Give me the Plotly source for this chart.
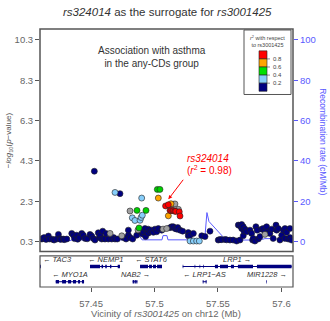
import plotly.graph_objects as go

# ---------------- data ----------------
navy_x = [57.4112, 57.4120, 57.4130, 57.4146, 57.4164, 57.4172, 57.4195, 57.4209, 57.4230, 57.4243,
          57.4255, 57.4261, 57.4282, 57.4290, 57.4309, 57.4348, 57.4361, 57.4370, 57.4387, 57.4395,
          57.4408, 57.4427, 57.4439, 57.4453, 57.4470, 57.4492, 57.4505, 57.4518, 57.4531, 57.4557,
          57.4565, 57.4571, 57.4584, 57.4592, 57.4600, 57.4610, 57.4620, 57.4636, 57.4663, 57.4678,
          57.4689, 57.4707, 57.4754, 57.4776, 57.4794, 57.4794, 57.4807, 57.4828, 57.4860, 57.4880,
          57.4899, 57.4905, 57.4912, 57.4925, 57.4930, 57.4939, 57.4950, 57.4951, 57.4965, 57.4978,
          57.4991, 57.5004, 57.5017, 57.5030, 57.5057, 57.5122, 57.5135, 57.5148, 57.5161, 57.5175,
          57.5183, 57.5201, 57.5222, 57.5266, 57.5266, 57.5280, 57.5306, 57.5372, 57.5398, 57.5437,
          57.5502, 57.5516, 57.5529, 57.5555, 57.5568, 57.5594, 57.5620, 57.5647, 57.5660, 57.5673,
          57.5673, 57.5687, 57.5687, 57.5699, 57.5699, 57.5705, 57.5713, 57.5726, 57.5752, 57.5765,
          57.5773, 57.5778, 57.5791, 57.5799, 57.5809, 57.5817, 57.5831, 57.5844, 57.5857, 57.5870,
          57.5883, 57.5896, 57.5909, 57.5923, 57.5935, 57.5957, 57.5962, 57.5975, 57.5988, 57.6002,
          57.6015, 57.6028, 57.6028, 57.6041, 57.6054, 57.6067, 57.6067, 57.6080,
          57.4526, 57.4728]
navy_y = [0.43, 0.45, 0.50, 0.41, 0.58, 0.43, 0.42, 0.38, 0.43, 0.66,
          0.45, 0.41, 0.43, 0.40, 0.43, 0.71, 0.62, 0.45, 0.62, 0.42,
          0.50, 0.71, 0.62, 0.46, 0.44, 0.66, 0.58, 0.46, 0.38, 0.74,
          0.50, 0.62, 0.43, 0.82, 0.45, 0.43, 0.70, 0.43, 0.43, 0.50,
          0.43, 0.43, 0.50, 0.43, 0.62, 0.87, 0.50, 0.43, 0.62, 0.82,
          0.87, 0.68, 0.79, 0.95, 0.55, 0.76, 0.72, 0.92, 0.82, 0.87,
          0.76, 0.92, 0.79, 0.95, 0.87, 0.99, 1.04, 1.04, 0.95, 0.92,
          1.00, 0.87, 0.82, 0.75, 0.59, 0.62, 0.71, 0.59, 0.55, 0.82,
          0.38, 0.41, 0.40, 0.41, 0.39, 0.38, 0.38, 0.33, 1.12, 0.38,
          1.09, 0.95, 1.15, 1.04, 0.59, 0.82, 0.92, 0.79, 0.87, 0.71,
          0.38, 0.46, 0.33, 1.04, 0.87, 0.43, 0.55, 0.92, 0.95, 0.82,
          1.04, 0.79, 0.71, 0.92, 0.46, 1.12, 0.87, 0.95, 0.38, 0.62,
          0.87, 0.95, 0.46, 0.76, 0.43, 0.95, 0.50, 0.38,
          3.79, 2.68]

gray_x = [57.4650, 57.4742, 57.4870, 57.4807, 57.5067, 57.5096, 57.5148, 57.5161, 57.5183, 57.5188, 57.5870]
gray_y = [0.71, 0.59, 0.88, 1.82, 0.92, 0.95, 2.15, 2.17, 1.85, 1.90, 0.66]

lblue_x = [57.4689, 57.4899, 57.4825, 57.4846, 57.4886, 57.4894, 57.4904, 57.5280, 57.5306, 57.5332, 57.5353]
lblue_y = [2.74, 2.46, 1.48, 1.35, 1.36, 1.50, 1.61, 0.33, 0.33, 0.33, 0.33]

green_x = [57.5022, 57.5043, 57.4862, 57.4933, 57.4878]
green_y = [2.89, 2.89, 1.85, 1.85, 0.98]

orange_x = [57.5030, 57.5130, 57.5109]
orange_y = [2.46, 2.18, 1.58]

red_x = [57.5087, 57.5109, 57.5122, 57.5130, 57.5143, 57.5150, 57.5161, 57.5168, 57.5195, 57.5201]
red_y = [2.07, 2.13, 1.85, 1.84, 1.84, 1.83, 1.81, 1.80, 1.78, 1.57]

lead_x, lead_y = 57.5109, 2.40

recomb_x = [57.4098, 57.4335, 57.4350, 57.4846, 57.4862, 57.4886, 57.4902, 57.5059, 57.5067,
            57.5098, 57.5106, 57.5358, 57.5382, 57.5398, 57.5413, 57.5429, 57.5563, 57.5831,
            57.5870, 57.5949, 57.5988, 57.6091]
recomb_y = [0.5, 0.5, 0.9, 0.9, 2.5, 2.5, 0.9, 0.9, 3.0,
            3.0, 0.9, 0.9, 2.0, 3.0, 14.4, 10.0, 0.8, 0.8,
            1.5, 1.5, 0.8, 0.8]

gene_names = ["TAC3", "NEMP1", "STAT6", "LRP1", "MYO1A", "NAB2", "LRP1\u2212AS", "MIR1228"]
gene_start = [57.4050, 57.4492, 57.4886, 57.5222, 57.4222, 57.4828, 57.5380, 57.5881]
gene_end = [57.4105, 57.4728, 57.5059, 57.6080, 57.4445, 57.4865, 57.5410, 57.5885]
gene_strand = ["-", "-", "-", "+", "-", "+", "-", "+"]
gene_row = [1, 1, 1, 1, 2, 2, 2, 2]
gene_exons = [
    [(57.4050, 57.4105)],
    [(57.4492, 57.4571), (57.4583, 57.4595), (57.4612, 57.4624), (57.4650, 57.4660), (57.4710, 57.4728)],
    [(57.4886, 57.4949), (57.4957, 57.4980), (57.4988, 57.5012), (57.5020, 57.5059)],
    [(57.5222, 57.5227), (57.5316, 57.5321), (57.5355, 57.5360), (57.5383, 57.5388), (57.5476, 57.5500),
     (57.5516, 57.5579), (57.5602, 57.5626), (57.5657, 57.5776), (57.5807, 57.6080)],
    [(57.4222, 57.4248), (57.4272, 57.4303), (57.4319, 57.4343), (57.4358, 57.4382), (57.4398, 57.4413), (57.4429, 57.4445)],
    [(57.4828, 57.4838), (57.4843, 57.4853), (57.4857, 57.4865)],
    [(57.5380, 57.5386), (57.5403, 57.5410)],
    [(57.5881, 57.5885)],
]

left_ticks = [0.3, 2.3, 4.3, 6.3, 8.3, 10.3]
right_ticks = [0, 20, 40, 60, 80, 100]
x_ticks = [57.45, 57.5, 57.55, 57.6]
x_ticklabels = ["57.45", "57.5", "57.55", "57.6"]
legend_bins = ["#FF0000", "#FFA500", "#00E000", "#87CEFA", "#000080"]
legend_labels = ["0.8", "0.6", "0.4", "0.2"]

# ---------------- layout helpers ----------------
W, H = 330, 321
ML, MR, MT, MB = 40, 37, 29, 32
PW, PH = W - ML - MR, H - MT - MB


def pxx(x):
    return (x - ML) / PW


def pxy(y):
    return (H - MB - y) / PH


XR = [57.4098, 57.6091]
YR = [-0.192, 10.841]
Y2R = [(YR[0] - 0.3) * 10, (YR[1] - 0.3) * 10]
main_dom = [pxy(253.3), 1]
gene_dom = [0, pxy(257.7)]

fig = go.Figure()

# recombination line (right axis)
fig.add_trace(go.Scatter(x=recomb_x, y=recomb_y, mode="lines", yaxis="y2", xaxis="x",
                         line=dict(color="#5A5AFF", width=1), hoverinfo="skip"))

mk_line = dict(color="#222", width=0.6)
for xs, ys, col in [(navy_x, navy_y, "#000080"), (gray_x, gray_y, "#A0A0A0"),
                    (lblue_x, lblue_y, "#87CEFA"), (green_x, green_y, "#00D000"),
                    (orange_x, orange_y, "#FFA500"), (red_x, red_y, "#FF0000")]:
    fig.add_trace(go.Scatter(x=xs, y=ys, mode="markers", yaxis="y4", xaxis="x",
                             marker=dict(size=6, color=col, line=mk_line)))

# genes
row_y = {1: 0.66, 2: 0.17}
for name, s, e, strand, row, exons in zip(gene_names, gene_start, gene_end, gene_strand, gene_row, gene_exons):
    yv = row_y[row]
    fig.add_trace(go.Scatter(x=[s, e], y=[yv, yv], mode="lines", xaxis="x", yaxis="y3",
                             line=dict(color="#000080", width=1), hoverinfo="skip"))
    ex, ey = [], []
    for a, b in exons:
        ex += [a, b, None]
        ey += [yv, yv, None]
    fig.add_trace(go.Scatter(x=ex, y=ey, mode="lines", xaxis="x", yaxis="y3",
                             line=dict(color="#000080", width=3.5), hoverinfo="skip"))

annotations = []
for name, s, e, strand, row in zip(gene_names, gene_start, gene_end, gene_strand, gene_row):
    txt = ("\u2190 <i>%s</i>" % name) if strand == "-" else ("<i>%s</i> \u2192" % name)
    c = (s + e) / 2
    anchor = "center"
    if c < XR[0] + 0.012:
        c = XR[0] + 0.0006
        anchor = "left"
    annotations.append(dict(x=c, y=row_y[row], xref="x", yref="y3", text=txt, showarrow=False,
                            xanchor=anchor, yanchor="bottom", yshift=0.5,
                            font=dict(size=7.5, color="#333", family="Liberation Sans")))

F = "Liberation Sans"


def txt_ann(x, y, text, size, color, angle=0, xanchor="center"):
    return dict(x=pxx(x), y=pxy(y), xref="paper", yref="paper", showarrow=False,
                xanchor=xanchor, yanchor="middle", textangle=angle, text=text,
                font=dict(size=size, color=color, family=F))


annotations += [
    txt_ann(167, 12.3, "<i>rs324014</i> as the surrogate for <i>rs3001425</i>", 11.5, "#333"),
    txt_ann(151.5, 57, "Association with asthma<br>in the any-CDs group", 10, "#333"),
    txt_ann(166, 316, "Vicinity of <i>rs3001425</i> on chr12 (Mb)", 9.5, "#666"),
    txt_ann(9, 141, "\u2212<i>log</i><sub>10</sub>(<i>p</i>\u2212value)", 8, "#555", angle=-90),
    txt_ann(323, 142, "Recombination rate (cM/Mb)", 8.5, "#5A5AFF", angle=90),
    txt_ann(208, 159.5, "<i>rs324014</i>", 10, "#FF0000"),
    txt_ann(209, 171.5, "(<i>r</i><sup>2</sup> = 0.98)", 10, "#FF0000"),
    txt_ann(267.5, 41.5, "<i>r</i><sup>2</sup> with respect<br>to rs3001425", 5.5, "#444"),
    dict(x=lead_x, y=lead_y, xref="x", yref="y", ax=16, ay=-21, text="", showarrow=True,
         arrowhead=2, arrowsize=0.8, arrowwidth=1, arrowcolor="#FF0000"),
]

shapes = [
    dict(type="rect", xref="paper", yref="paper", x0=0, x1=1, y0=main_dom[0], y1=1,
         line=dict(color="#555", width=1.5), layer="above"),
    dict(type="rect", xref="paper", yref="paper", x0=0, x1=1, y0=gene_dom[0], y1=gene_dom[1],
         line=dict(color="#555", width=1.2), layer="above"),
    dict(type="rect", xref="paper", yref="paper", x0=pxx(244), x1=pxx(291), y0=pxy(95), y1=pxy(30),
         line=dict(color="#555", width=1), fillcolor="white", layer="above"),
]
bin_top = 51
bin_h = 8.15
for i, col in enumerate(legend_bins):
    y0 = bin_top + i * bin_h
    shapes.append(dict(type="rect", xref="paper", yref="paper", x0=pxx(259), x1=pxx(267),
                       y0=pxy(y0 + bin_h), y1=pxy(y0), fillcolor=col,
                       line=dict(color="#222", width=0.6), layer="above"))
for i, lab in enumerate(legend_labels):
    yb = bin_top + (i + 1) * bin_h
    shapes.append(dict(type="line", xref="paper", yref="paper", x0=pxx(267), x1=pxx(270),
                       y0=pxy(yb), y1=pxy(yb), line=dict(color="#444", width=0.6), layer="above"))
    annotations.append(txt_ann(270.5, yb, lab, 6, "#444", xanchor="left"))

tick_font = dict(size=9.5, color="#666", family=F)
fig.update_layout(
    width=W, height=H, margin=dict(l=ML, r=MR, t=MT, b=MB),
    paper_bgcolor="white", plot_bgcolor="white", showlegend=False,
    xaxis=dict(domain=[0, 1], range=XR, anchor="y3", tickvals=x_ticks, ticktext=x_ticklabels,
               ticks="outside", ticklen=4, tickcolor="#555", tickfont=tick_font,
               ticklabelstandoff=4,
               showgrid=False, zeroline=False, showline=False),
    yaxis=dict(domain=main_dom, range=YR, anchor="x", tickvals=left_ticks,
               ticktext=["%.1f" % v for v in left_ticks], ticks="outside", ticklen=4,
               tickcolor="#555", tickfont=tick_font, showgrid=False, zeroline=False, showline=False),
    yaxis2=dict(overlaying="y", side="right", range=Y2R, anchor="x", tickvals=right_ticks,
                ticks="outside", ticklen=4, tickcolor="#5A5AFF",
                tickfont=dict(size=9.5, color="#5A5AFF", family=F),
                showgrid=False, zeroline=False, showline=False),
    yaxis3=dict(domain=gene_dom, range=[0, 1], anchor="x", visible=False, fixedrange=True),
    yaxis4=dict(overlaying="y", range=YR, anchor="x", visible=False),
    annotations=annotations, shapes=shapes,
    font=dict(family=F),
)

fig.write_html("out.html")
